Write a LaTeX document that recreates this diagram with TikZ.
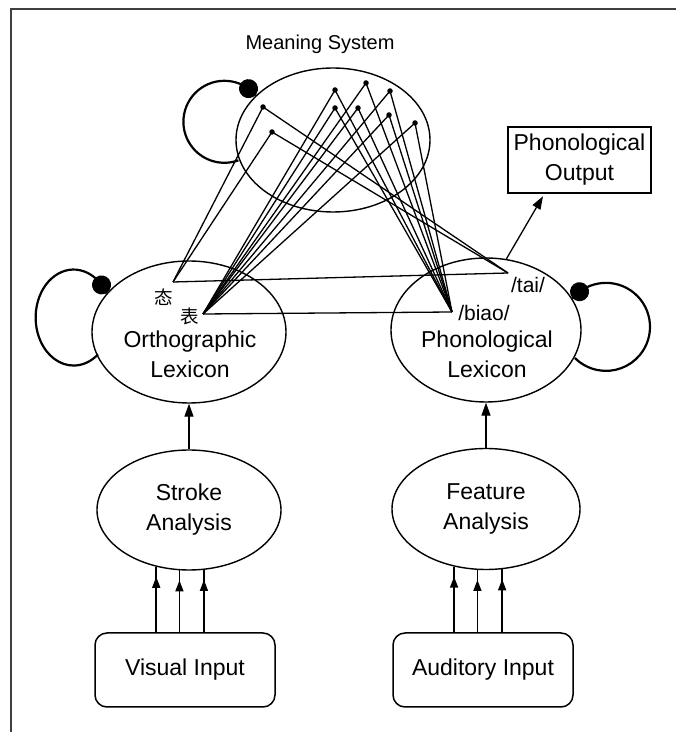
\documentclass[tikz,border=0pt]{standalone}
\usepackage{fontspec}
\setmainfont{Liberation Sans}
\newfontfamily\hanzifont{Noto Sans CJK SC}
\usepackage{tikz}
\usetikzlibrary{shapes.geometric, arrows.meta, positioning, calc, decorations.markings}

\newcommand{\labfont}{\fontsize{23}{30}\selectfont}
\newcommand{\titlefont}{\fontsize{20}{24}\selectfont}

\begin{document}
\begin{tikzpicture}[x=1pt, y=1pt,
    lexicon/.style={ellipse, draw=black, line width=1.4pt, inner sep=0pt,
        align=center, font=\labfont},
    lexname/.style={align=center, font=\labfont, inner sep=0pt},
    inbox/.style={rectangle, rounded corners=12pt, draw=black, line width=1.5pt,
        minimum width=180pt, minimum height=74pt, font=\labfont},
    outbox/.style={rectangle, draw=black, line width=1.3pt, align=center,
        minimum width=143pt, minimum height=66pt, font=\labfont},
    hanzi/.style={font=\hanzifont\fontsize{18.5}{18.5}\selectfont, inner sep=0pt},
    phon/.style={font=\fontsize{21}{21}\selectfont, inner sep=0pt},
    unit/.style={circle, fill=black, inner sep=0pt, minimum size=5.5pt},
    arr/.style={-{Triangle[length=13pt, width=9pt]}, line width=1.3pt},
    feed/.style={line width=1.5pt, postaction={decorate},
        decoration={markings, mark=at position -10pt with {\arrow{Triangle[length=11pt, width=8pt]}}}},
    link/.style={line width=1.3pt},
    selfloop/.style={line width=2.2pt, postaction={decorate},
        decoration={markings, mark=at position 10pt with {\fill[black] circle (9.5pt);}}},
    frame/.style={line width=1.6pt, black!75},
]
\useasboundingbox (0,0) rectangle (676,732);
\draw[frame] (11,0) -- (11,723) -- (676,723);

% Meaning system
\node[lexicon, minimum width=194pt, minimum height=144pt] (meaning) at (333,592) {};
\node[font=\titlefont] (msys) at (320,688) {Meaning System};

% Lexicons
\node[lexicon, minimum width=194pt, minimum height=142pt] (ortho) at (189,400) {};
\node[lexicon, minimum width=190pt, minimum height=144pt] (phono) at (486,402) {};
\node[lexname] (orthoname) at (190,378) {Orthographic\\Lexicon};
\node[lexname] (phononame) at (487,378) {Phonological\\Lexicon};

% Analysis stages
\node[lexicon, minimum width=184pt, minimum height=120pt] (stroke) at (189,222) {Stroke\\Analysis};
\node[lexicon, minimum width=188pt, minimum height=121pt] (feature) at (486,223) {Feature\\Analysis};

% Inputs and output
\node[inbox] (visual) at (185,62) {Visual Input};
\node[inbox] (auditory) at (483,62) {Auditory Input};
\node[outbox] (output) at (579.5,572) {Phonological\\Output};

% Self loops
\draw[selfloop] (meaning.150) arc[start angle=40, end angle=290, radius=41];
\draw[selfloop] (ortho.155) arc[start angle=30, end angle=310, x radius=38, y radius=48];
\draw[selfloop] (phono.20) arc[start angle=140, end angle=-135, radius=44];

% Upward arrows
\draw[arr] (stroke.north) -- (ortho.south);
\draw[arr] (feature.north) -- (phono.south);
\draw[arr, shorten >=3pt] (phono.74) -- ([xshift=-35pt]output.south);

\draw[feed] (visual.north -| stroke.240.4) -- (stroke.240.4);
\draw[feed] (visual.north -| stroke.261.4) -- (stroke.261.4);
\draw[feed] (visual.north -| stroke.284.2) -- (stroke.284.2);
\draw[feed] (auditory.north -| feature.241.5) -- (feature.241.5);
\draw[feed] (auditory.north -| feature.262.4) -- (feature.262.4);
\draw[feed] (auditory.north -| feature.285) -- (feature.285);

% Word forms
\node[hanzi] (htai) at (164,435) {态};
\node[hanzi] (hbiao) at (190,416) {表};
\node[phon] (ltai) at (528,447) {/tai/};
\node[phon] (lbiao) at (484,419) {/biao/};
\coordinate (ctai) at (173,450);
\coordinate (cbiao) at (203,418);
\coordinate (ptai) at (508,459);
\coordinate (pbiao) at (452,420);

% Semantic units
\node[unit] (m1) at (263,625) {};
\node[unit] (m2) at (272,600) {};
\node[unit] (m3) at (335,642) {};
\node[unit] (m4) at (335,624) {};
\node[unit] (m5) at (366,649) {};
\node[unit] (m6) at (358,624) {};
\node[unit] (m7) at (390,641) {};
\node[unit] (m8) at (389,617) {};
\node[unit] (m9) at (415,609) {};

% Connections
\draw[link] (ctai) -- (ptai);
\draw[link] (cbiao) -- (pbiao);
\draw[link] (ctai) -- (m1.center) -- (ptai);
\draw[link] (ctai) -- (m2.center) -- (ptai);
\draw[link] (cbiao) -- (m3.center) -- (pbiao);
\draw[link] (cbiao) -- (m4.center) -- (pbiao);
\draw[link] (cbiao) -- (m5.center) -- (pbiao);
\draw[link] (cbiao) -- (m6.center) -- (pbiao);
\draw[link] (cbiao) -- (m7.center) -- (pbiao);
\draw[link] (cbiao) -- (m8.center) -- (pbiao);
\draw[link] (cbiao) -- (m9.center) -- (pbiao);
\end{tikzpicture}
\end{document}
